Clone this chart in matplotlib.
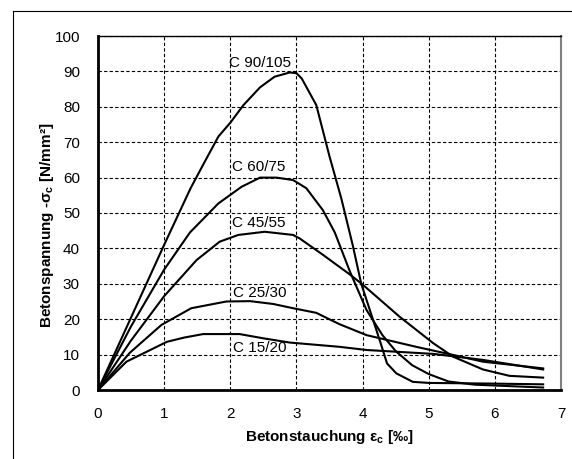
import matplotlib.pyplot as plt
from matplotlib.lines import Line2D

plt.rcParams['font.family'] = ['Liberation Sans', 'DejaVu Sans']
plt.rcParams['mathtext.fontset'] = 'custom'
plt.rcParams['mathtext.rm'] = 'Liberation Sans'
plt.rcParams['mathtext.bf'] = 'Liberation Sans:bold'

# Spannungs-Dehnungs-Linien
eps_15 = [0, 0.43, 1.04, 1.3, 1.59, 2.14, 2.5, 2.9, 3.65, 4.06, 5.07, 5.82, 6.73]
sig_15 = [0, 8.0, 13.6, 14.8, 15.8, 15.8, 14.6, 13.4, 12.2, 11.3, 10.2, 8.5, 5.8]

eps_25 = [0, 0.48, 0.96, 1.41, 1.94, 2.30, 2.65, 2.95, 3.3, 3.65, 4.06, 4.81, 5.37, 5.82, 6.73]
sig_25 = [0, 10.5, 18.4, 23.1, 25.0, 25.1, 24.3, 23.1, 21.8, 18.6, 15.5, 12.2, 9.9, 8.0, 6.1]

eps_45 = [0, 0.5, 1.0, 1.49, 1.84, 2.12, 2.52, 2.95, 3.05, 3.40, 3.81, 4.0,
          4.56, 5.07, 5.37, 5.82, 6.22, 6.73]
sig_45 = [0, 14.0, 26.5, 36.7, 41.9, 43.8, 44.7, 43.8, 42.8, 38.2, 32.6, 29.8,
          20.7, 13.2, 9.4, 5.8, 4.0, 3.5]

eps_60 = [0, 0.5, 1.0, 1.39, 1.82, 2.17, 2.45, 2.7, 2.95, 3.15, 3.40, 3.58,
          3.81, 4.06, 4.3, 4.5, 4.75, 5.0, 5.3, 5.7, 6.73]
sig_60 = [0, 18.0, 34.0, 44.5, 52.7, 57.4, 60.0, 60.0, 59.3, 57.0, 50.8, 44.5,
          33.4, 22.6, 15.5, 11.0, 7.0, 4.5, 2.4, 1.5, 0.7]

eps_90 = [0, 0.5, 1.0, 1.2, 1.4, 1.6, 1.82, 2.0, 2.2, 2.45, 2.67, 2.9, 3.0, 3.08,
          3.3, 3.5, 3.68, 3.85, 3.98, 4.11, 4.26, 4.37, 4.51, 4.76, 5.0, 6.0, 6.73]
sig_90 = [0, 20.5, 41.0, 49.0, 57.0, 64.0, 71.6, 75.5, 80.5, 85.5, 88.5, 89.7, 89.5, 88.0,
          80.5, 66.0, 54.0, 41.0, 30.0, 22.6, 14.0, 7.5, 4.7, 2.3, 2.0, 1.8, 1.6]

kurven = [(eps_15, sig_15), (eps_25, sig_25), (eps_45, sig_45),
          (eps_60, sig_60), (eps_90, sig_90)]
klassen = ['C 15/20', 'C 25/30', 'C 45/55', 'C 60/75', 'C 90/105']
text_x = [2.04, 2.04, 2.03, 2.03, 1.98]
text_y = [11.8, 27.3, 47.3, 62.9, 92.5]

fig = plt.figure(figsize=(5.72, 4.59), dpi=100)
ax = fig.add_axes([98 / 572, 1 - 390 / 459, 463 / 572, 354 / 459])

for eps, sig in kurven:
    ax.plot(eps, sig, color='black', lw=1.5, solid_joinstyle='round')

for name, tx, ty in zip(klassen, text_x, text_y):
    ax.text(tx, ty, name, fontsize=11, ha='left', va='center')

ax.set_xlim(0, 7)
ax.set_ylim(0, 100)
ax.set_xticks(range(0, 8))
ax.set_yticks(range(0, 101, 10))
ax.tick_params(length=0, labelsize=11)
ax.tick_params(axis='y', pad=13)
ax.tick_params(axis='x', pad=12)
ax.grid(True, color='black', lw=0.8, linestyle=(0, (3, 2)))

ax.spines['left'].set_linewidth(2)
ax.spines['bottom'].set_linewidth(2)
ax.spines['top'].set_linewidth(1)
ax.spines['right'].set_linewidth(1.5)
ax.spines['right'].set_color('#808080')

ax.set_xlabel(r'Betonstauchung ε$_\mathbf{c}$ [‰]', fontsize=11, fontweight='bold')
ax.xaxis.set_label_coords(0.5, -0.108)
ax.set_ylabel(r'Betonspannung -σ$_\mathbf{c}$ [N/mm²]', fontsize=11, fontweight='bold',
              va='center')
ax.yaxis.set_label_coords(-0.111, 0.466)

# Rahmen um das Diagramm
fig.add_artist(Line2D([13 / 572, 13 / 572], [0, 1 - 11 / 459], color='black', lw=0.8))
fig.add_artist(Line2D([13 / 572, 1], [1 - 11 / 459, 1 - 11 / 459], color='black', lw=0.8))

fig.savefig('out.png', dpi=100)
